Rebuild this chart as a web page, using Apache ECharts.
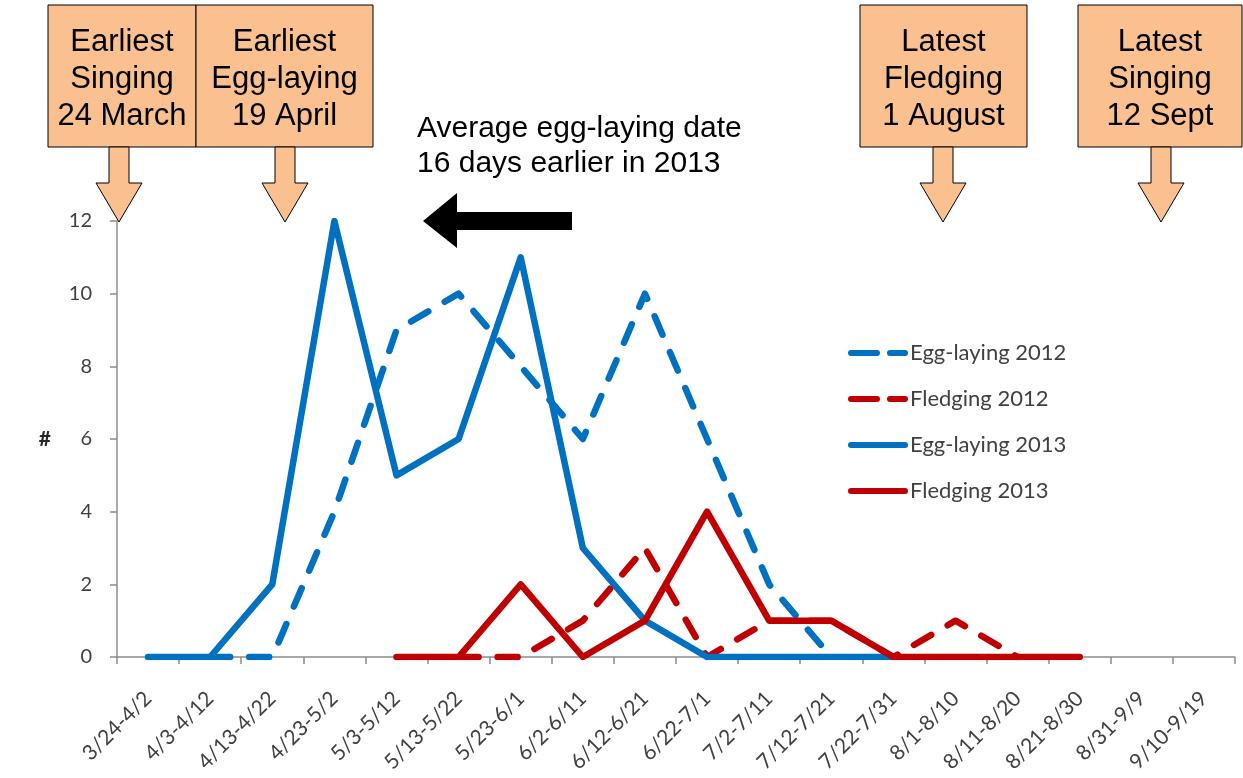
<!DOCTYPE html>
<html>
<head>
<meta charset="utf-8">
<script src="https://cdn.jsdelivr.net/npm/echarts@6/dist/echarts.min.js"></script>
<style>
  html, body { margin: 0; padding: 0; background: #ffffff; }
  #chart { width: 1243px; height: 778px; }
</style>
</head>
<body>
<div id="chart"></div>
<script>
// Ten-day periods, March to September
const periods = [
  '3/24-4/2', '4/3-4/12', '4/13-4/22', '4/23-5/2', '5/3-5/12', '5/13-5/22',
  '5/23-6/1', '6/2-6/11', '6/12-6/21', '6/22-7/1', '7/2-7/11', '7/12-7/21',
  '7/22-7/31', '8/1-8/10', '8/11-8/20', '8/21-8/30', '8/31-9/9', '9/10-9/19'
];

// Counts per period (null = no record for that period)
const eggLaying2012 = [null, 0, 0, 4, 9, 10, 8, 6, 10, 6, 2, 0, null, null, null, null, null, null];
const fledging2012  = [null, null, null, null, null, 0, 0, 1, 3, 0, 1, 1, 0, 1, 0, null, null, null];
const eggLaying2013 = [0, 0, 2, 12, 5, 6, 11, 3, 1, 0, 0, 0, 0, null, null, null, null, null];
const fledging2013  = [null, null, null, null, 0, 0, 2, 0, 1, 4, 1, 1, 0, 0, 0, 0, null, null];

const seriesNames = ['Egg-laying 2012', 'Fledging 2012', 'Egg-laying 2013', 'Fledging 2013'];
const yTicks = { min: 0, max: 12, interval: 2 };

const BLUE = '#0070C0';
const RED = '#C00000';
const BOX_FILL = '#FAC090';
const LABEL_FONT = 'Lato, "Noto Sans", sans-serif';
const CALLOUT_FONT = '"Liberation Sans", Arial, sans-serif';

// Legend keys: rounded thick strokes, broken in two for the dashed series
const DASH_ICON = 'path://M3,0H29A3,3 0 0 1 29,6H3A3,3 0 0 1 3,0Z M42,0H57A3,3 0 0 1 57,6H42A3,3 0 0 1 42,0Z';
const SOLID_ICON = 'path://M3,0H57A3,3 0 0 1 57,6H3A3,3 0 0 1 3,0Z';

function lineSeries(name, data, color, dashed) {
  return {
    name: name,
    type: 'line',
    data: data,
    symbol: 'none',
    connectNulls: false,
    z: dashed ? 2 : 3,
    lineStyle: {
      color: color,
      width: 6.5,
      type: dashed ? [20, 19] : 'solid',
      cap: 'round',
      join: 'round'
    },
    itemStyle: { color: color }
  };
}

// Orange callout box with a block arrow pointing down into the plot
function callout(x, w, lines, arrowX) {
  const top = 5, h = 142, shaftHalf = 10, headHalf = 23, headTop = 183, tip = 222;
  return [
    {
      type: 'rect',
      shape: { x: x, y: top, width: w, height: h },
      style: { fill: BOX_FILL, stroke: '#000', lineWidth: 1 },
      z: 10
    },
    {
      type: 'text',
      x: x + w / 2,
      y: top + h / 2 + 3,
      style: {
        text: lines.join('\n'),
        font: '31px ' + CALLOUT_FONT,
        fill: '#000',
        align: 'center',
        verticalAlign: 'middle',
        lineHeight: 37
      },
      z: 11
    },
    {
      type: 'polygon',
      shape: {
        points: [
          [arrowX - shaftHalf, top + h], [arrowX + shaftHalf, top + h],
          [arrowX + shaftHalf, headTop], [arrowX + headHalf, headTop],
          [arrowX, tip], [arrowX - headHalf, headTop],
          [arrowX - shaftHalf, headTop]
        ]
      },
      style: { fill: BOX_FILL, stroke: '#000', lineWidth: 1 },
      z: 10
    }
  ];
}

const chart = echarts.init(document.getElementById('chart'), null, { renderer: 'canvas' });

const option = {
  backgroundColor: '#ffffff',
  animation: false,
  grid: { left: 117, right: 8, top: 221, bottom: 121, containLabel: false },
  legend: {
    orient: 'vertical',
    left: 843,
    top: 337,
    itemWidth: 60,
    itemHeight: 6.5,
    itemGap: 24,
    textStyle: { fontFamily: LABEL_FONT, fontSize: 22, color: '#404040', padding: [0, 0, 0, -3] },
    data: [
      { name: seriesNames[0], icon: DASH_ICON, itemStyle: { color: BLUE } },
      { name: seriesNames[1], icon: DASH_ICON, itemStyle: { color: RED } },
      { name: seriesNames[2], icon: SOLID_ICON, itemStyle: { color: BLUE } },
      { name: seriesNames[3], icon: SOLID_ICON, itemStyle: { color: RED } }
    ]
  },
  xAxis: {
    type: 'category',
    data: periods,
    boundaryGap: true,
    axisLine: { show: true, lineStyle: { color: '#8C8C8C', width: 1.5 } },
    axisTick: { show: true, length: 7, lineStyle: { color: '#8C8C8C', width: 1.5 } },
    axisLabel: {
      interval: 0,
      rotate: 45,
      margin: 38,
      fontFamily: LABEL_FONT,
      fontSize: 21,
      color: '#404040'
    },
    splitLine: { show: false }
  },
  yAxis: {
    type: 'value',
    min: yTicks.min,
    max: yTicks.max,
    interval: yTicks.interval,
    name: '#',
    nameLocation: 'middle',
    nameRotate: 0,
    nameGap: 66,
    nameTextStyle: { fontFamily: LABEL_FONT, fontSize: 21, fontWeight: 'bold', color: '#262626' },
    axisLine: { show: true, lineStyle: { color: '#8C8C8C', width: 1.5 } },
    axisTick: { show: true, length: 7, lineStyle: { color: '#8C8C8C', width: 1.5 } },
    axisLabel: { margin: 25, fontFamily: LABEL_FONT, fontSize: 20, color: '#404040' },
    splitLine: { show: false }
  },
  series: [
    lineSeries(seriesNames[0], eggLaying2012, BLUE, true),
    lineSeries(seriesNames[1], fledging2012, RED, true),
    lineSeries(seriesNames[2], eggLaying2013, BLUE, false),
    lineSeries(seriesNames[3], fledging2013, RED, false)
  ],
  graphic: [
    ...callout(48, 148, ['Earliest', 'Singing', '24 March'], 119),
    ...callout(196, 177, ['Earliest', 'Egg-laying', '19 April'], 285),
    ...callout(860, 167, ['Latest', 'Fledging', '1 August'], 943),
    ...callout(1078, 164, ['Latest', 'Singing', '12 Sept'], 1161),
    {
      type: 'text',
      x: 417,
      y: 146,
      style: {
        text: 'Average egg-laying date\n16 days earlier in 2013',
        font: '30px ' + CALLOUT_FONT,
        fill: '#000',
        align: 'left',
        verticalAlign: 'middle',
        lineHeight: 35
      },
      z: 11
    },
    {
      type: 'polygon',
      shape: {
        points: [[423, 221], [457, 193], [457, 212], [572, 212], [572, 230], [457, 230], [457, 248]]
      },
      style: { fill: '#000' },
      z: 11
    }
  ]
};

chart.setOption(option);
</script>
</body>
</html>
